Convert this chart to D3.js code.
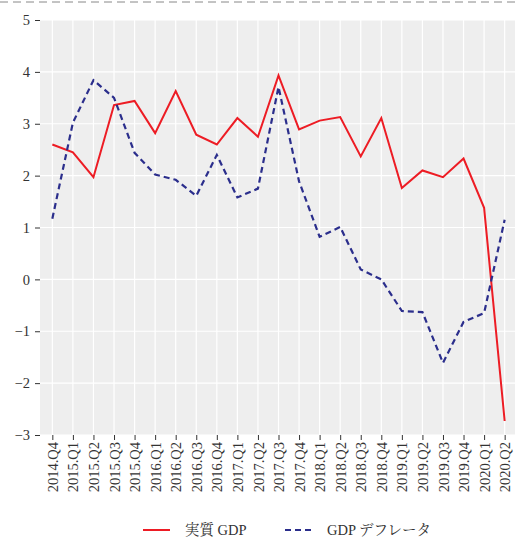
<!DOCTYPE html>
<html><head><meta charset="utf-8">
<script src="https://cdn.jsdelivr.net/npm/d3@7"></script>
<style>
html,body{margin:0;padding:0;background:#fff;overflow:hidden}
</style></head>
<body><svg id="c" width="515" height="538"></svg>
<script>
const quarters = ["2014.Q4","2015.Q1","2015.Q2","2015.Q3","2015.Q4","2016.Q1","2016.Q2","2016.Q3","2016.Q4","2017.Q1","2017.Q2","2017.Q3","2017.Q4","2018.Q1","2018.Q2","2018.Q3","2018.Q4","2019.Q1","2019.Q2","2019.Q3","2019.Q4","2020.Q1","2020.Q2"];
const realGDP = [2.60,2.45,1.97,3.36,3.44,2.82,3.63,2.79,2.60,3.11,2.75,3.93,2.89,3.06,3.13,2.37,3.11,1.76,2.10,1.97,2.33,1.38,-2.73];
const deflator = [1.17,3.02,3.84,3.50,2.44,2.02,1.92,1.61,2.40,1.58,1.75,3.71,1.89,0.82,1.01,0.19,0.00,-0.61,-0.63,-1.61,-0.82,-0.65,1.15];
const yTicks = [-3,-2,-1,0,1,2,3,4,5];
const seriesNames = ["実質 GDP","GDP デフレータ"];

const FONT = "'Liberation Serif', 'Times New Roman', 'Noto Serif CJK JP', 'Noto Sans CJK JP', serif";
const svg = d3.select("#c");
const L = 40, R = 517, T = 20, B = 435;
const x = d3.scalePoint().domain(quarters).range([L, R]).padding(0.6);
const y = d3.scaleLinear().domain([-3, 5]).range([B, T]);

// top dashed border
svg.append("line").attr("x1",0).attr("x2",515).attr("y1",2).attr("y2",2)
  .attr("stroke","#888").attr("stroke-width",1).attr("stroke-dasharray","8,5");

// panel
svg.append("rect").attr("x",L).attr("y",T).attr("width",R-L).attr("height",B-T).attr("fill","#eeeeee");
const g = svg.append("g");
g.selectAll(".hg").data(yTicks).join("line")
  .attr("x1",L).attr("x2",R).attr("y1",d=>y(d)).attr("y2",d=>y(d))
  .attr("stroke","#fff").attr("stroke-width",1.2);
g.selectAll(".vg").data(quarters).join("line")
  .attr("x1",d=>x(d)).attr("x2",d=>x(d)).attr("y1",T).attr("y2",B)
  .attr("stroke","#fff").attr("stroke-width",1.2);

// axes
const ya = svg.append("g").attr("transform",`translate(${L},0)`)
  .call(d3.axisLeft(y).tickValues(yTicks).tickSize(5).tickPadding(5).tickFormat(d=>d<0?"\u2212"+Math.abs(d):d));
ya.attr("font-family", null);
ya.select(".domain").remove();
ya.selectAll("line").attr("stroke","#333");
ya.selectAll("text").style("font-family",FONT).style("font-size","14.5px").attr("fill","#333");

const xa = svg.append("g").attr("transform",`translate(0,${B})`)
  .call(d3.axisBottom(x).tickSize(5).tickPadding(3));
xa.attr("font-family", null);
xa.select(".domain").remove();
xa.selectAll("line").attr("stroke","#333");
xa.selectAll("text").style("font-family",FONT).style("font-size","14.5px").attr("fill","#333")
  .attr("transform","rotate(-90)").attr("text-anchor","end")
  .attr("x",-7).attr("y",0).attr("dy","0.35em");

// lines
const line = d3.line().x((d,i)=>x(quarters[i])).y(d=>y(d));
svg.append("path").datum(realGDP).attr("d",line).attr("fill","none")
  .attr("stroke","#ed1c24").attr("stroke-width",2);
svg.append("path").datum(deflator).attr("d",line).attr("fill","none")
  .attr("stroke","#2b2e8c").attr("stroke-width",2.2).attr("stroke-dasharray","6,4");

// legend
const leg = svg.append("g");
leg.append("line").attr("x1",143).attr("x2",170).attr("y1",530).attr("y2",530)
  .attr("stroke","#ed1c24").attr("stroke-width",2);
leg.append("text").attr("x",185).attr("y",530).attr("dy","0.35em").style("font-family",FONT).style("font-size","14.5px").attr("fill","#333").text(seriesNames[0]);
leg.append("line").attr("x1",285).attr("x2",311).attr("y1",530).attr("y2",530)
  .attr("stroke","#2b2e8c").attr("stroke-width",2.2).attr("stroke-dasharray","6,4");
leg.append("text").attr("x",327).attr("y",530).attr("dy","0.35em").style("font-family",FONT).style("font-size","14.5px").attr("fill","#333").text(seriesNames[1]);
</script></body></html>
